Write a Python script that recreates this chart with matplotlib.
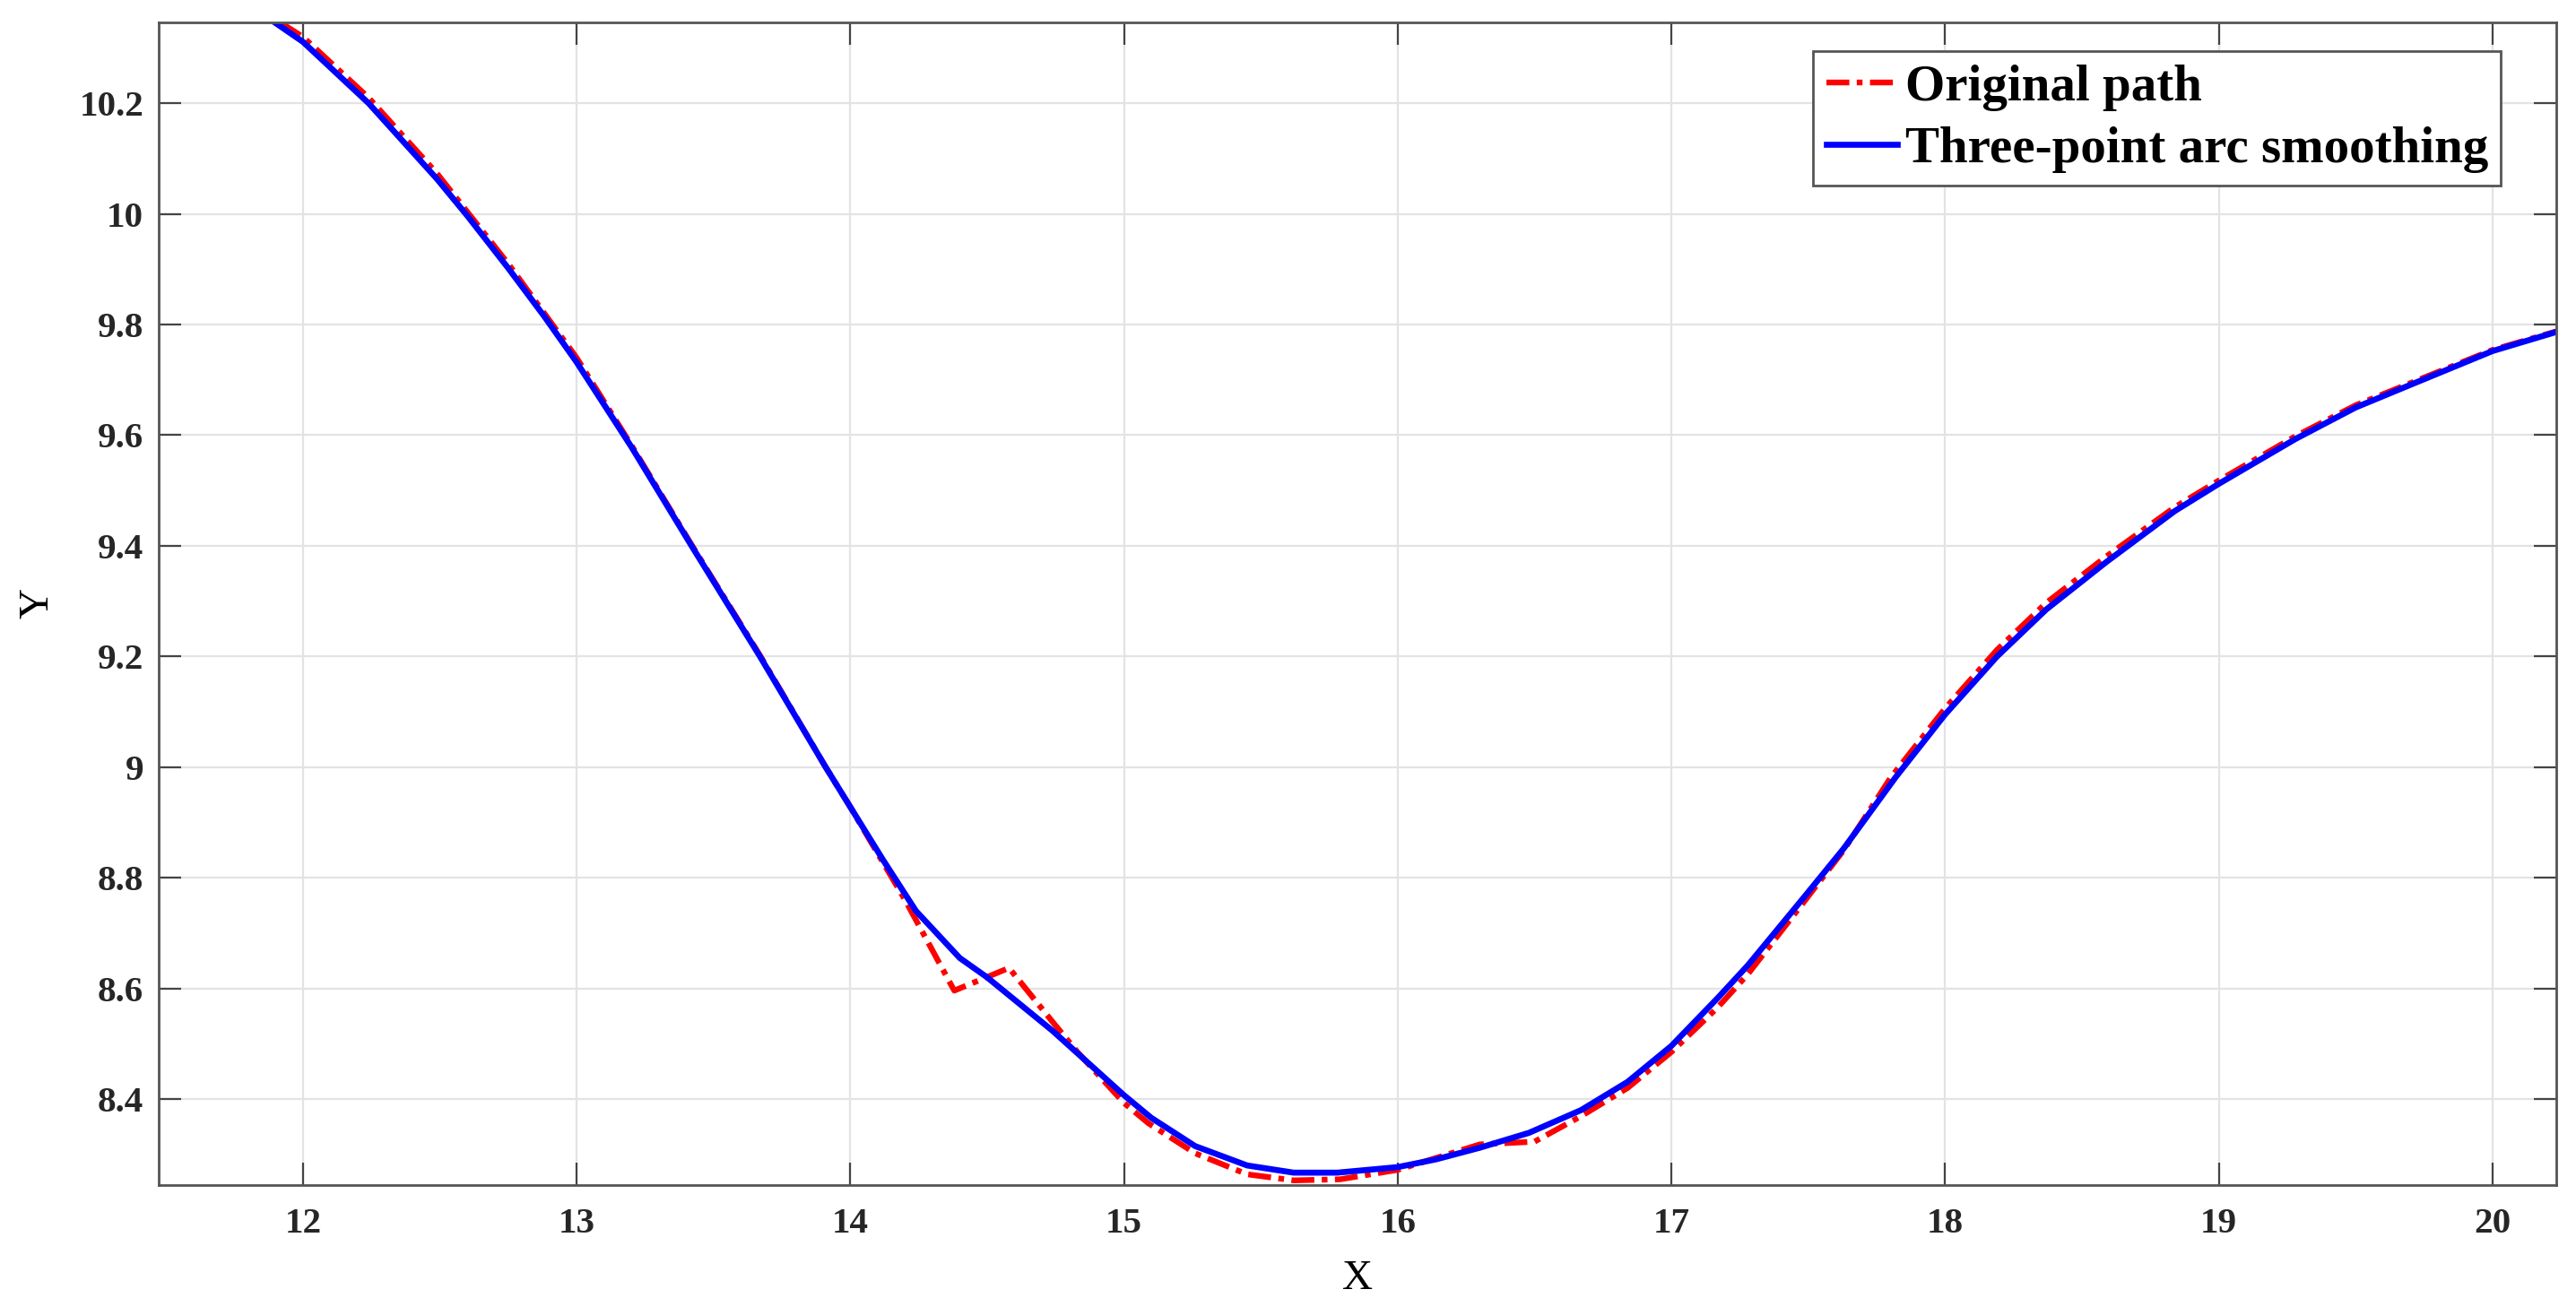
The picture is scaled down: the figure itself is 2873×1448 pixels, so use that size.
import numpy as np
import matplotlib
matplotlib.use('Agg')
import matplotlib.pyplot as plt

# original path (red dash-dot)
orig_x = [11.92, 12.00, 12.24, 12.49, 12.75, 13.00, 13.20, 13.42, 13.67, 13.91,
          14.00, 14.20, 14.38, 14.58, 14.74, 14.83, 15.00, 15.09, 15.26, 15.45,
          15.62, 15.79, 16.00, 16.30, 16.50, 16.67, 16.84, 17.00, 17.17, 17.28,
          17.49, 17.63, 17.80, 18.00, 18.19, 18.37, 18.59, 18.84, 19.00, 19.28,
          19.50, 19.72, 20.00, 20.25]
orig_y = [10.345, 10.320, 10.210, 10.073, 9.910, 9.740, 9.582, 9.402, 9.202, 9.000,
          8.928, 8.760, 8.596, 8.637, 8.539, 8.485, 8.393, 8.356, 8.302, 8.264,
          8.253, 8.255, 8.272, 8.318, 8.323, 8.369, 8.420, 8.485, 8.566, 8.626,
          8.760, 8.850, 8.980, 9.106, 9.212, 9.297, 9.381, 9.470, 9.518, 9.598,
          9.654, 9.698, 9.754, 9.790]

# three-point arc smoothing (blue)
smooth_x = [11.90, 12.00, 12.24, 12.49, 12.60, 12.75, 12.88, 13.00, 13.20, 13.42,
            13.67, 13.91, 14.00, 14.12, 14.24, 14.40, 14.50, 14.74, 15.00,
            15.10, 15.26, 15.45, 15.62, 15.78, 16.00, 16.14, 16.30, 16.48, 16.67,
            16.84, 17.00, 17.17, 17.28, 17.49, 17.63, 17.82, 18.00, 18.19,
            18.37, 18.59, 18.84, 19.00, 19.28, 19.50, 19.72, 20.00, 20.25]
smooth_y = [10.345, 10.311, 10.200, 10.063, 9.997, 9.902, 9.816, 9.732, 9.579, 9.400,
            9.200, 9.000, 8.928, 8.832, 8.740, 8.655, 8.620, 8.523, 8.407,
            8.366, 8.315, 8.280, 8.267, 8.267, 8.277, 8.291, 8.312, 8.339, 8.380,
            8.431, 8.496, 8.583, 8.642, 8.768, 8.853, 8.982, 9.095, 9.200,
            9.285, 9.371, 9.463, 9.512, 9.593, 9.650, 9.695, 9.752, 9.789]

x_ticks = [12, 13, 14, 15, 16, 17, 18, 19, 20]
y_ticks = [8.4, 8.6, 8.8, 9, 9.2, 9.4, 9.6, 9.8, 10, 10.2]
y_tick_labels = ['8.4', '8.6', '8.8', '9', '9.2', '9.4', '9.6', '9.8', '10', '10.2']

plt.rcParams['font.family'] = ['Liberation Serif', 'DejaVu Serif']

fig = plt.figure(figsize=(14.365, 7.24), dpi=200)
ax = fig.add_axes([0.0616, 0.0872, 0.9307, 0.8955])

ax.plot(orig_x, orig_y, color='red', lw=2.3, linestyle=(0, (4, 1.3, 1, 1.3)),
        label='Original path')
ax.plot(smooth_x, smooth_y, color='blue', lw=2.4, label='Three-point arc smoothing')

ax.set_xlim(11.473, 20.233)
ax.set_ylim(8.245, 10.346)
ax.set_xticks(x_ticks)
ax.set_yticks(y_ticks)
ax.set_yticklabels(y_tick_labels)

ax.grid(True, color='#e3e3e3', lw=0.8)
ax.set_axisbelow(True)
ax.tick_params(direction='in', length=9, width=0.8, color='#444444',
               top=True, right=True, labelsize=14.8)
ax.tick_params(axis='x', pad=9)
ax.tick_params(axis='y', pad=6)
for lab in ax.get_xticklabels() + ax.get_yticklabels():
    lab.set_fontweight('bold')
    lab.set_color('#262626')
for sp in ax.spines.values():
    sp.set_color('#555555')
    sp.set_linewidth(1.0)

ax.set_xlabel('X', fontsize=17, labelpad=8)
ax.set_ylabel('Y', fontsize=17, labelpad=9)

leg = ax.legend(loc='upper right', bbox_to_anchor=(0.977, 0.975), borderaxespad=0,
                prop={'family': 'Liberation Serif', 'weight': 'bold', 'size': 20.5},
                handlelength=1.4, handletextpad=0.15, borderpad=0.25,
                labelspacing=0.3, fancybox=False, framealpha=1)
leg.get_frame().set_edgecolor('#555555')
leg.get_frame().set_linewidth(1.0)

fig.savefig('out.png', dpi=200, facecolor='white')
